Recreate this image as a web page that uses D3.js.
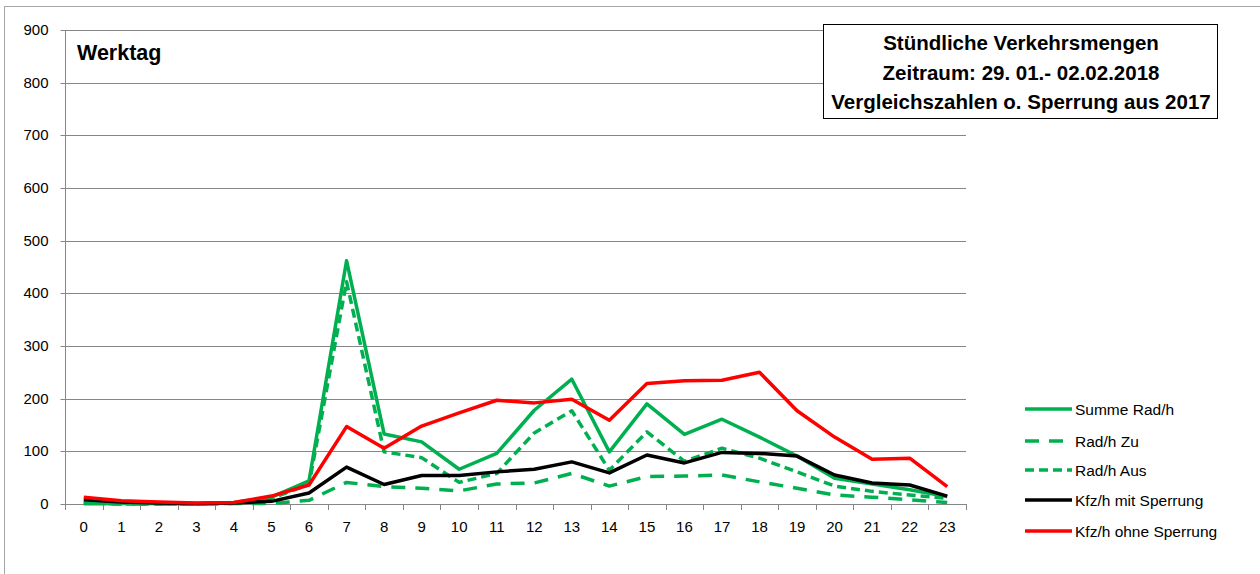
<!DOCTYPE html>
<html><head><meta charset="utf-8">
<script src="https://cdn.jsdelivr.net/npm/d3@7"></script>
<style>
html,body{margin:0;padding:0;background:#fff;}
svg{display:block;font-family:"Liberation Sans",Arial,sans-serif;}
</style></head>
<body>
<svg id="c" width="1260" height="574"></svg>
<script>
const hours = ["0","1","2","3","4","5","6","7","8","9","10","11","12","13","14","15","16","17","18","19","20","21","22","23"];
const summeRad = [2,1,1,0,3,13,44,462,133,118,66,96,178,237,99,190,132,161,127,91,49,38,27,14];
const radZu = [1,0,0,0,1,1,7,41,33,30,25,38,40,58,34,52,53,55,42,30,17,13,8,3];
const radAus = [1,0,0,0,1,11,37,422,99,88,41,58,135,177,64,137,81,106,87,61,34,24,17,11];
const kfzMit = [8,4,2,1,2,5,21,70,37,54,54,61,66,80,59,93,78,98,96,91,55,40,36,15];
const kfzOhne = [13,6,4,2,3,15,36,147,106,148,173,197,192,199,159,229,234,235,250,177,127,85,87,33];
const yTicks = [0,100,200,300,400,500,600,700,800,900];
const seriesNames = ["Summe Rad/h","Rad/h Zu","Rad/h Aus","Kfz/h mit Sperrung","Kfz/h ohne Sperrung"];
const titleLines = ["Stündliche Verkehrsmengen","Zeitraum: 29. 01.- 02.02.2018","Vergleichszahlen o. Sperrung aus 2017"];
const panelLabel = "Werktag";

const series = [
  {name: seriesNames[0], values: summeRad, color: "#00B050", dash: null},
  {name: seriesNames[1], values: radZu, color: "#00B050", dash: "14,10"},
  {name: seriesNames[2], values: radAus, color: "#00B050", dash: "9,5"},
  {name: seriesNames[3], values: kfzMit, color: "#000000", dash: null},
  {name: seriesNames[4], values: kfzOhne, color: "#FF0000", dash: null}
];

const svg = d3.select("#c");
const L = 65, R = 966, T = 30, B = 504;
const x = d3.scaleBand().domain(hours).range([L, R]);
const y = d3.scaleLinear().domain([0, 900]).range([B, T]);
const gray = "#868686";
const tickFont = "15px";

// outer chart border
svg.append("rect").attr("x",4.5).attr("y",6.5).attr("width",1300).attr("height",600)
  .attr("fill","none").attr("stroke","#a6a6a6").attr("stroke-width",1);

// gridlines
svg.append("g").selectAll("line").data(yTicks.filter(d=>d>0)).join("line")
  .attr("x1",L).attr("x2",R).attr("y1",d=>Math.round(y(d))+0.5).attr("y2",d=>Math.round(y(d))+0.5)
  .attr("stroke",gray).attr("stroke-width",1);

// y axis
const ya = svg.append("g").attr("transform",`translate(${L+0.5},0)`)
  .call(d3.axisLeft(y).tickValues(yTicks).tickSize(5).tickPadding(12).tickFormat(d3.format("d")));
ya.select(".domain").attr("stroke",gray).attr("d",`M0,${T}V${B}`);
ya.selectAll(".tick line").attr("stroke",gray);
ya.selectAll(".tick").attr("transform",d=>`translate(0,${Math.round(y(d))+0.5})`);
ya.selectAll("text").attr("fill","#000").style("font-size",tickFont).style("font-family","Liberation Sans, Arial, sans-serif");

// x axis
const xa = svg.append("g").attr("transform",`translate(0,${Math.round(B)+0.5})`)
  .call(d3.axisBottom(x).tickSize(0).tickPadding(17));
xa.select(".domain").attr("stroke",gray).attr("d",`M${L},0H${R}`);
xa.selectAll("text").attr("fill","#000").style("font-size",tickFont).style("font-family","Liberation Sans, Arial, sans-serif");
const bounds = hours.map(h=>x(h)).concat([R]);
svg.append("g").selectAll("line").data(bounds).join("line")
  .attr("x1",d=>Math.round(d)+0.5).attr("x2",d=>Math.round(d)+0.5)
  .attr("y1",Math.round(B)).attr("y2",Math.round(B)+6).attr("stroke",gray);

// lines
const line = d3.line().x((d,i)=>x(hours[i])+x.bandwidth()/2).y(d=>y(d));
svg.append("g").selectAll("path").data(series).join("path")
  .attr("d",d=>line(d.values)).attr("fill","none")
  .attr("stroke",d=>d.color).attr("stroke-width",3.5)
  .attr("stroke-linejoin","round")
  .attr("stroke-dasharray",d=>d.dash);

// panel label
svg.append("text").attr("x",77).attr("y",60).text(panelLabel)
  .style("font-weight","bold").style("font-size","21.5px");

// title box
svg.append("rect").attr("x",823.5).attr("y",24.5).attr("width",394).attr("height",94)
  .attr("fill","#fff").attr("stroke","#000").attr("stroke-width",1);
const tb = [50,80,109];
svg.append("g").selectAll("text").data(titleLines).join("text")
  .attr("x",1021).attr("y",(d,i)=>tb[i]).attr("text-anchor","middle")
  .style("font-weight","bold").style("font-size","20.5px").text(d=>d);

// legend
const lg = svg.append("g");
const ly = [409,441,470,500,531];
series.forEach((s,i)=>{
  lg.append("line").attr("x1",1025).attr("x2",1072).attr("y1",ly[i]).attr("y2",ly[i])
    .attr("stroke",s.color).attr("stroke-width",3.5).attr("stroke-dasharray",s.dash);
  lg.append("text").attr("x",1075).attr("y",ly[i]+5.5).text(s.name).style("font-size","15.5px");
});
</script>
</body></html>
